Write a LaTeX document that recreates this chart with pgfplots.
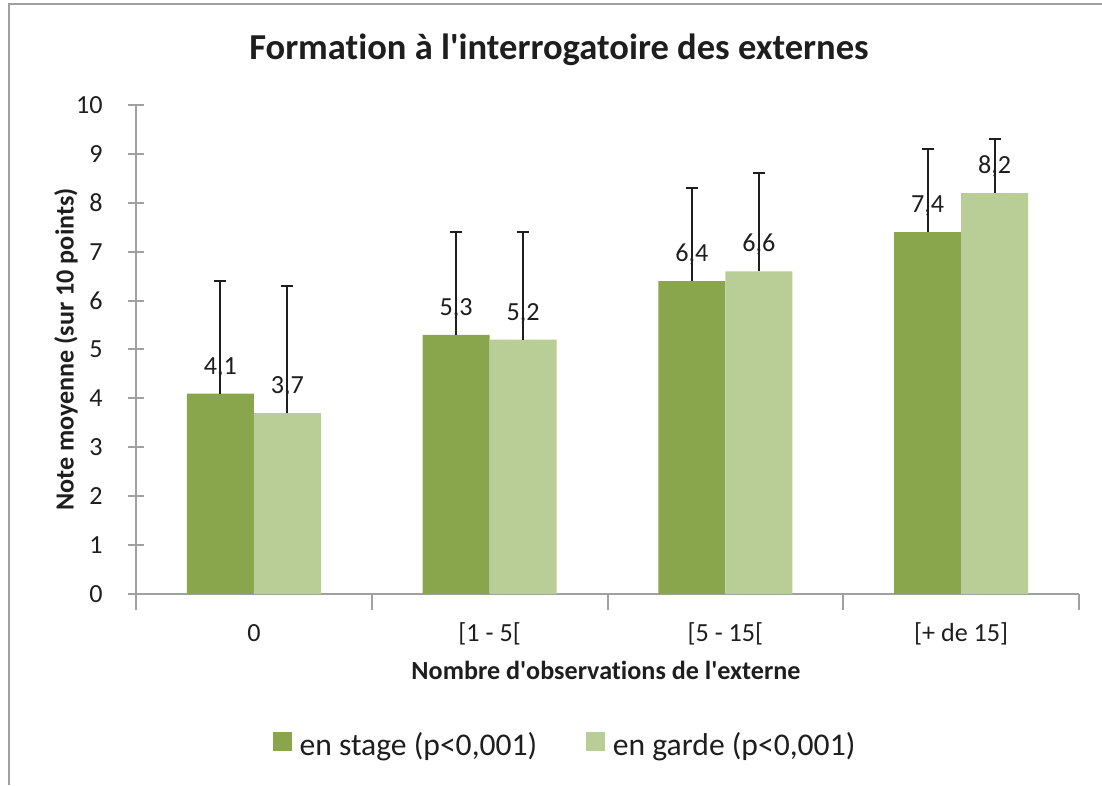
\documentclass[border=0pt]{standalone}
\usepackage{fontspec}
\setmainfont{Carlito}[Ligatures={NoCommon}]
\usepackage{pgfplots}
\pgfplotsset{compat=1.18}
\definecolor{dk}{HTML}{8AA64C}
\definecolor{lt}{HTML}{B9CD96}
\definecolor{ax}{HTML}{A0A0A0}
\definecolor{tx}{HTML}{1E1E1E}
\begin{document}
\begin{tikzpicture}
\useasboundingbox (0,0) rectangle (826.5pt,588.75pt);
\draw[ax, line width=1.5pt] (6.75pt,0) -- (6.75pt,585.75pt) -- (826.5pt,585.75pt);
\node[text=tx, font=\fontsize{27.4}{33}\selectfont\bfseries] at (419.25pt,551.25pt) {Formation à l\textquotesingle interrogatoire des externes};
\node[text=tx, font=\fontsize{19.6}{24}\selectfont\bfseries, rotate=90] at (49.5pt,326.6pt) {Note moyenne (sur 10 points)};
\node[text=tx, font=\fontsize{19.6}{24}\selectfont\bfseries] at (454.5pt,86.25pt) {Nombre d\textquotesingle observations de l\textquotesingle externe};
\begin{axis}[
  at={(102pt,143.25pt)}, anchor=south west,
  scale only axis, width=707.25pt, height=366.75pt,
  ymin=0, ymax=10, ytick={0,1,...,10},
  xmin=0.5, xmax=4.5,
  axis x line*=bottom, axis y line*=left,
  axis line style={ax, line width=1.5pt, -},
  xtick={0.5,1.5,2.5,3.5,4.5}, xticklabels={},
  extra x ticks={1,2,3,4},
  extra x tick labels={0,{[1 - 5[},{[5 - 15[},{[+ de 15]}},
  extra x tick style={major tick length=0pt},
  tick align=center, major tick length=12pt,
  tick style={ax, line width=1.5pt},
  /pgf/number format/assume math mode=true,
  ticklabel style={text=tx, font=\fontsize{19.6}{24}\selectfont},
  yticklabel style={anchor=east, inner sep=0pt, xshift=-18.75pt},
  xticklabel style={anchor=base, inner sep=0pt, yshift=-35.25pt},
  ybar=0pt, bar width=50.25pt,
  nodes near coords={\pgfmathprintnumber[fixed,fixed zerofill,precision=1,use comma,assume math mode=true]{\pgfplotspointmeta}},
  every node near coord/.append style={text=tx, font=\fontsize{19.6}{24}\selectfont, anchor=base, inner sep=0pt, yshift=14.6pt},
  legend style={at={(0.454,-0.309)}, anchor=center, legend columns=2, draw=none,
    font=\fontsize{23.7}{28}\selectfont, text=tx, nodes={inner sep=0pt}, column sep=6pt,
    /tikz/every even column/.append style={column sep=36.75pt}},
  clip=false,
]
\addplot[fill=dk, draw=none,
  legend image code/.code={\fill[dk] (0pt,-4.5pt) rectangle (14pt,9.5pt);},
  error bars/.cd, y dir=plus, y explicit,
  error bar style={line width=1.5pt, tx},
  error mark options={rotate=90, mark size=4.5pt, line width=1.5pt, tx}]
  coordinates {(1,4.1) +- (0,2.3) (2,5.3) +- (0,2.1) (3,6.4) +- (0,1.9) (4,7.4) +- (0,1.7)};
\addlegendentry{en stage (p<0,001)}
\addplot[fill=lt, draw=none,
  legend image code/.code={\fill[lt] (0pt,-4.5pt) rectangle (14pt,9.5pt);},
  error bars/.cd, y dir=plus, y explicit,
  error bar style={line width=1.5pt, tx},
  error mark options={rotate=90, mark size=4.5pt, line width=1.5pt, tx}]
  coordinates {(1,3.7) +- (0,2.6) (2,5.2) +- (0,2.2) (3,6.6) +- (0,2.0) (4,8.2) +- (0,1.1)};
\addlegendentry{en garde (p<0,001)}
\end{axis}
\end{tikzpicture}
\end{document}
